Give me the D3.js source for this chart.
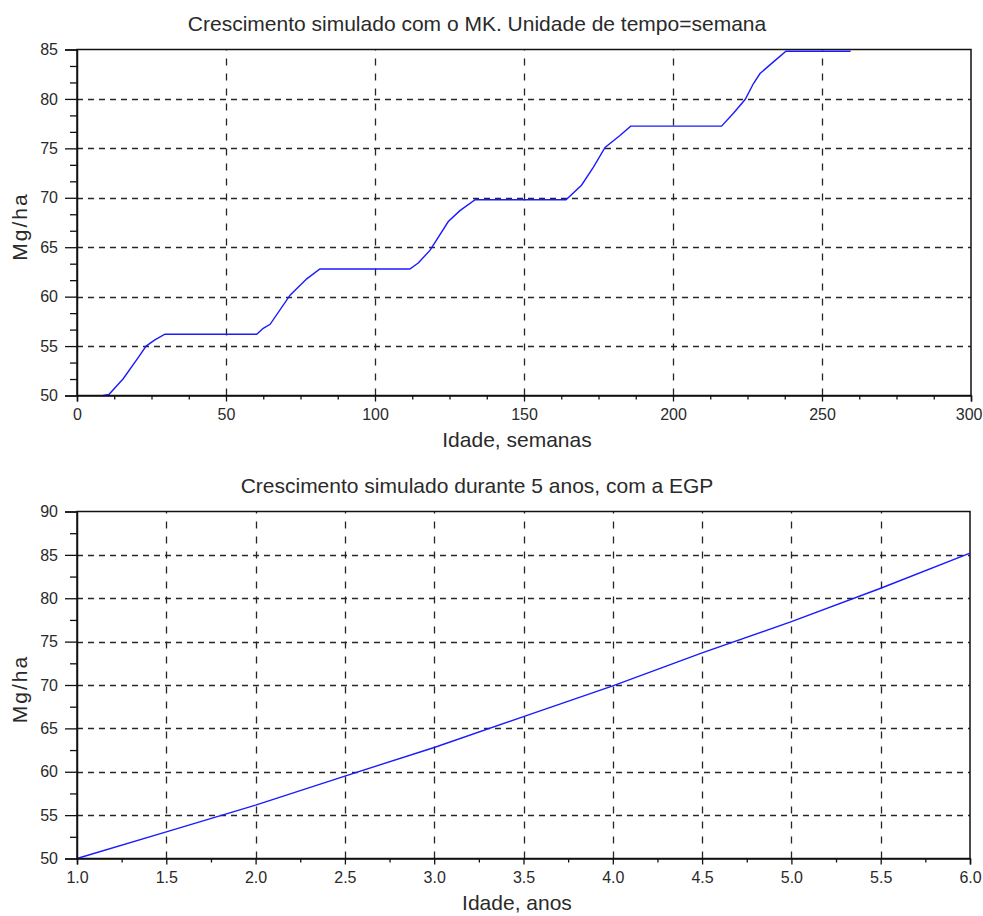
<!DOCTYPE html>
<html>
<head>
<meta charset="utf-8">
<script src="https://cdn.jsdelivr.net/npm/d3@7"></script>
<style>
  html, body { margin: 0; padding: 0; background: #fff; }
  svg { display: block; font-family: "Liberation Sans", Arial, sans-serif; }
</style>
</head>
<body>
<svg id="chart" width="983" height="916"></svg>
<script>
// ---------- Data ----------
// Top panel: simulated growth with the MK model, time unit = week
const weeks = [8.8, 10.7, 15.5, 20, 23.2, 26, 29.5, 60.3, 62.5, 64.8, 71.5, 77.1, 81.5,
  111.7, 114.5, 118.5, 124.6, 128.5, 133.6, 164.1, 169.3, 173.3, 177.2, 182.2, 185.8,
  216.3, 220.2, 224.2, 227, 229.2, 233.7, 237.9, 259.6];
const biomassMK = [50.0, 50.1, 51.7, 53.6, 55.0, 55.6, 56.2, 56.2, 56.8, 57.2, 60.15, 61.8, 62.8,
  62.8, 63.4, 64.7, 67.6, 68.7, 69.8, 69.8, 71.27, 73.1, 75.1, 76.3, 77.25,
  77.25, 78.52, 79.94, 81.56, 82.57, 83.75, 84.83, 84.83];

// Bottom panel: simulated growth during 5 years with the EGP
const years = [1.0, 1.5, 2.0, 2.5, 3.0, 3.5, 4.0, 4.5, 5.0, 5.5, 6.0];
const biomassEGP = [50.0, 53.07, 56.15, 59.5, 62.8, 66.35, 69.9, 73.7, 77.3, 81.15, 85.2];

// Tick values
const topXTicks = [0, 50, 100, 150, 200, 250, 300];
const topYTicks = [50, 55, 60, 65, 70, 75, 80, 85];
const botXTicks = [1.0, 1.5, 2.0, 2.5, 3.0, 3.5, 4.0, 4.5, 5.0, 5.5, 6.0];
const botYTicks = [50, 55, 60, 65, 70, 75, 80, 85, 90];

const titles = ["Crescimento simulado com o MK. Unidade de tempo=semana",
                "Crescimento simulado durante 5 anos, com a EGP"];
const xLabels = ["Idade, semanas", "Idade, anos"];
const yLabel = "Mg/ha";

// ---------- Drawing ----------
const svg = d3.select("#chart");
const TXT = "#2a2a2a";
const W = 983;

function panel(cfg) {
  const { left, right, top, bottom } = cfg.box;
  const x = d3.scaleLinear().domain(cfg.xDomain).range([left, right]);
  const y = d3.scaleLinear().domain(cfg.yDomain).range([bottom, top]);
  const g = svg.append("g");

  // grid
  g.append("g").selectAll("line")
    .data(cfg.yTicks.filter(v => v !== cfg.yDomain[0] && v !== cfg.yDomain[1]))
    .join("line")
    .attr("x1", left).attr("x2", right)
    .attr("y1", d => Math.round(y(d)) + 0.5).attr("y2", d => Math.round(y(d)) + 0.5)
    .attr("stroke", "#262626").attr("stroke-width", 1.3)
    .attr("stroke-dasharray", "6,5");
  g.append("g").selectAll("line")
    .data(cfg.xTicks.filter(v => v !== cfg.xDomain[0] && v !== cfg.xDomain[1]))
    .join("line")
    .attr("x1", d => Math.round(x(d)) + 0.5).attr("x2", d => Math.round(x(d)) + 0.5)
    .attr("y1", bottom).attr("y2", top)
    .attr("stroke", "#262626").attr("stroke-width", 1.3)
    .attr("stroke-dasharray", "7,8");

  // frame
  g.append("rect")
    .attr("x", left).attr("y", top)
    .attr("width", right - left).attr("height", bottom - top)
    .attr("fill", "none").attr("stroke", "#111").attr("stroke-width", 1.5);

  // data line
  const line = d3.line().x(d => x(d[0])).y(d => y(d[1]));
  g.append("path")
    .datum(d3.zip(cfg.xs, cfg.ys))
    .attr("d", line)
    .attr("fill", "none")
    .attr("stroke", "#1a1aff")
    .attr("stroke-width", 1.4);

  // x axis
  const xAxis = d3.axisBottom(x).tickValues(cfg.xTicks).tickFormat(cfg.xFormat)
    .tickSize(6).tickPadding(7);
  const xg = g.append("g").attr("transform", `translate(0,${bottom})`).call(xAxis);
  const xMinor = d3.axisBottom(x).tickValues(cfg.xMinor).tickFormat("").tickSize(4);
  g.append("g").attr("transform", `translate(0,${bottom})`).call(xMinor)
    .select(".domain").remove();

  // y axis
  const yAxis = d3.axisLeft(y).tickValues(cfg.yTicks).tickFormat(d3.format("d"))
    .tickSize(12).tickPadding(7);
  g.append("g").attr("transform", `translate(${left},0)`).call(yAxis);
  const yMinor = d3.axisLeft(y).tickValues(cfg.yMinor).tickFormat("").tickSize(7);
  g.append("g").attr("transform", `translate(${left},0)`).call(yMinor)
    .select(".domain").remove();

  g.selectAll(".domain").attr("stroke", "#111").attr("stroke-width", 1.5);
  g.selectAll(".tick line").attr("stroke", "#111").attr("stroke-width", 1.3);
  g.selectAll(".tick text")
    .attr("font-family", "'Liberation Sans', Arial, sans-serif")
    .attr("font-size", 16).attr("fill", TXT);

  // keep the right-most x tick label inside the page
  xg.selectAll(".tick text").each(function (d) {
    const w = this.getComputedTextLength();
    const edge = x(d) + w / 2;
    if (edge > W - 1) d3.select(this).attr("dx", (W - 1 - edge).toFixed(1));
  });

  // title
  svg.append("text")
    .attr("x", 477).attr("y", cfg.titleY)
    .attr("text-anchor", "middle")
    .attr("font-size", 21).attr("fill", TXT)
    .text(cfg.title);

  // x label
  svg.append("text")
    .attr("x", 517).attr("y", cfg.xLabelY)
    .attr("text-anchor", "middle")
    .attr("font-size", 21).attr("fill", TXT)
    .text(cfg.xLabel);

  // y label
  const cy = (top + bottom) / 2 + 4;
  svg.append("text")
    .attr("transform", `translate(27,${cy}) rotate(-90)`)
    .attr("text-anchor", "middle")
    .attr("font-size", 21).attr("letter-spacing", 2).attr("fill", TXT)
    .text(yLabel);
}

const topMinorX = [];
for (let i = 0; i < topXTicks.length - 1; i++) {
  const a = topXTicks[i], b = topXTicks[i + 1];
  topMinorX.push(a + (b - a) / 4, a + (b - a) / 2, a + 3 * (b - a) / 4);
}
const topMinorY = [];
for (let i = 0; i < topYTicks.length - 1; i++) {
  const a = topYTicks[i], b = topYTicks[i + 1];
  topMinorY.push(a + (b - a) / 3, a + 2 * (b - a) / 3);
}
const botMinorX = [];
for (let i = 0; i < botXTicks.length - 1; i++) botMinorX.push((botXTicks[i] + botXTicks[i + 1]) / 2);
const botMinorY = [];
for (let i = 0; i < botYTicks.length - 1; i++) botMinorY.push((botYTicks[i] + botYTicks[i + 1]) / 2);

panel({
  box: { left: 77, right: 971, top: 49.5, bottom: 395.5 },
  xDomain: [0, 300], yDomain: [50, 85],
  xTicks: topXTicks, yTicks: topYTicks, xMinor: topMinorX, yMinor: topMinorY,
  xFormat: d3.format("d"),
  xs: weeks, ys: biomassMK,
  title: titles[0], titleY: 30.5, xLabel: xLabels[0], xLabelY: 446.5
});

panel({
  box: { left: 77, right: 970, top: 511.5, bottom: 858.5 },
  xDomain: [1, 6], yDomain: [50, 90],
  xTicks: botXTicks, yTicks: botYTicks, xMinor: botMinorX, yMinor: botMinorY,
  xFormat: d3.format(".1f"),
  xs: years, ys: biomassEGP,
  title: titles[1], titleY: 492.5, xLabel: xLabels[1], xLabelY: 909.5
});
</script>
</body>
</html>
